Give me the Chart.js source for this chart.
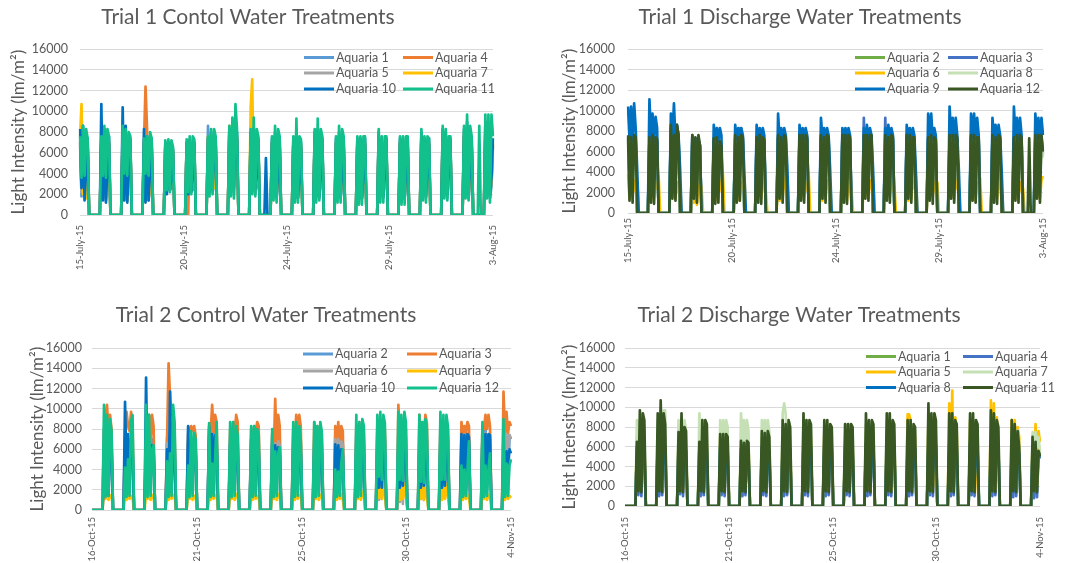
<!DOCTYPE html>
<html>
<head>
<meta charset="utf-8">
<script src="https://cdn.jsdelivr.net/npm/chart.js@4"></script>
<style>
  body { margin: 0; background: #fff; }
  #wrap { position: relative; width: 1066px; height: 563px; }
  canvas { position: absolute; }
</style>
</head>
<body>
<div id="wrap">
  <canvas id="c1" width="533" height="281" style="left:0;top:0"></canvas>
  <canvas id="c2" width="533" height="281" style="left:533px;top:0"></canvas>
  <canvas id="c3" width="533" height="282" style="left:0;top:281px"></canvas>
  <canvas id="c4" width="533" height="282" style="left:533px;top:281px"></canvas>
</div>
<script>
// readings: one row per day = six daytime readings (lm/m2); a 14-value row also gives the eight night readings
const NIGHT = [0, 0, 0, 0, 0, 0, 0, 0];

const trial1Ticks = ['15-July-15', '20-July-15', '24-July-15', '29-July-15', '3-Aug-15'];
const trial2Ticks = ['16-Oct-15', '21-Oct-15', '25-Oct-15', '30-Oct-15', '4-Nov-15'];

// ---- Trial 1 control
const t1cNames = ['Aquaria 1', 'Aquaria 4', 'Aquaria 5', 'Aquaria 7', 'Aquaria 10', 'Aquaria 11'];
const t1cAq1 = [
  [7000,1800,7400,1600,3000,6600],[7000,1600,7400,1400,2800,6800],[7400,1600,7400,1400,2600,6800],
  [7000,1600,7200,1400,2600,6600],[6600,2200,6800,2400,2600,6000],[6600,2200,6800,2400,2400,6400],
  [8600,2400,7400,2200,2800,6800],[7800,2200,8000,2000,6400,7200],[7400,2200,7800,2000,2800,6600],
  [6800,1800,7200,1600,3000,6600],[6800,1600,7200,1600,2800,6400],[7200,1800,7200,1600,3000,6600],
  [6800,1800,7200,1600,2800,6600],[6800,1600,6800,1600,2600,6600],[7200,1800,6800,1600,3000,6600],
  [6800,1600,6800,1600,3000,6600],[7200,1800,6800,1600,3200,6600],[7400,1800,7400,1600,3200,6800],
  [7400,1800,7800,1600,3200,6600],[7800,1800,7800,1600,2800,6600]
];
const t1cAq4 = [
  [7000,2600,7400,2400,3600,6800],[7200,2400,7400,2200,3400,7000],[7400,2400,7400,2200,3200,7000],
  [7000,12400,8300,1800,3400,6800],[6800,2800,7000,3000,2800,6200],[6800,0,7000,2800,2600,6600],
  [7200,2800,7400,2600,3000,7000],[8000,2800,8300,2600,6600,7400],[7600,2800,8000,2600,3200,6800],
  [7000,2600,7400,2400,3600,6800],[7000,2400,7400,2200,3400,6600],[7400,2600,7400,2400,3600,6800],
  [7000,2400,7400,2200,3400,6800],[7000,2400,7000,2200,3200,6800],[7400,2600,7000,2400,3600,6800],
  [7000,2600,7000,2400,3800,6800],[7400,2800,7000,2600,3800,6800],[7600,3000,7600,2800,4000,7000],
  [7600,3000,8000,2800,3800,6800],[8000,2800,8000,2600,3400,6800]
];
const t1cAq5 = [
  [7200,2200,7600,2000,3800,6800],[7400,2000,7600,1800,3600,7000],[7600,2000,7600,1800,3400,7000],
  [7000,2000,7200,1800,3400,6800],[6600,2600,6800,2800,3200,6000],[6800,2600,7000,2800,3200,6600],
  [7400,2600,7400,2800,3000,7000],[8000,2600,8300,2800,6800,7400],[7600,2600,8000,2800,3200,6800],
  [7000,2000,7400,2000,3400,6800],[7000,1800,7400,1800,3000,6600],[7400,2000,7400,2000,3400,6800],
  [7000,2000,7400,2000,3200,6800],[7000,1800,7000,1800,3000,6800],[7400,2000,7000,2000,3400,6800],
  [7000,1800,7000,1800,3400,6800],[7400,2000,7000,2000,3600,6800],[7400,2000,7400,2000,3600,6800],
  [7600,2000,8000,2000,3600,6800],[8000,2000,8000,2000,3200,6800]
];
const t1cAq7 = [
  [7400,10700,2000,4000,1600,7000],[7400,2400,8000,1600,3000,7000],[8000,1400,8300,1400,2400,7000],
  [7000,1400,7400,1600,2400,7000],[6800,2400,7000,2600,3000,6200],[7000,2400,7200,2800,3000,6800],
  [7600,3200,7600,3000,2600,7000],[8600,2400,8600,2600,7000,7600],[10400,13100,2400,3000,3200,7000],
  [7000,2000,7600,2000,3600,7000],[7000,1800,7600,1800,3200,6800],[7600,2000,7600,2000,3600,7000],
  [7000,2000,7600,2000,3400,7000],[7000,1800,7000,2800,2800,7000],[7600,2000,7000,2000,3600,7000],
  [7000,1800,7000,1800,3600,7000],[7600,2000,7000,2000,3800,7000],[7600,2000,7600,2000,3800,7000],
  [8000,2000,8300,2000,3800,7000],[8300,2000,8300,2000,3400,7000]
];
const t1cAq10 = [
  [8300,2600,8600,1400,4200,7400],[10700,1400,8300,1200,4400,7600],[10400,1400,8600,1200,4500,7400],
  [8300,1200,7600,1400,4300,7400],[7000,2000,7000,2400,3600,6400],[7000,2000,7300,2200,4000,7000],
  [7400,2200,8000,2400,5600,7400],[8300,2400,9000,2600,8300,8000],[8000,2400,8300,2600,4000,7400, 0,0,0,0,5500,0,0,0],
  [7400,1800,8000,1800,4000,7400],[7400,1800,8300,1600,3600,7000],[8000,1800,8300,1800,4200,7400],
  [7400,1800,8000,1800,4200,7400],[7400,1600,7400,1600,4000,7400],[8000,1800,7400,1800,4200,7400],
  [7400,1600,7400,1600,4200,7400],[8000,1800,7400,1800,4400,7400],[8300,2000,8000,2000,4600,7400],
  [8300,2000,9000,2000,4500,7400],[9000,2000,9000,1800,3600,7400]
];
const t1cAq11 = [
  [7600,3600,8600,3800,8300,7400],[7600,3800,8600,3600,8300,7600],[8600,4000,8300,3800,8000,7600],
  [7400,4000,7600,3800,8000,7400],[7200,2400,7300,2200,7200,6600],[7300,2200,7600,2000,7600,7300],
  [7600,1800,8300,2000,8300,7600],[8600,1800,9400,1600,10700,8300],[8300,2000,9400,1800,8300,7600],
  [7600,1400,8600,1200,8300,7600],[7600,1200,9300,1200,7600,7300],[8300,1200,9300,1400,8300,7600],
  [7600,1200,8600,1200,8300,7600],[7600,1000,7600,1000,7600,7600],[8300,1200,7600,1200,7600,7600],
  [7600,1000,7600,1000,7600,7600],[8300,1400,7600,1200,7600,7400],[8600,1600,8300,1400,7600,7600],
  [8600,1600,9700,1400,8600,7600, 0,0,0,0,8600,0,0,0],[9700,1600,9700,1200,9700,7600]
];

// ---- Trial 1 discharge
const t1dNames = ['Aquaria 2', 'Aquaria 3', 'Aquaria 6', 'Aquaria 8', 'Aquaria 9', 'Aquaria 12'];
const t1dAq2 = [
  [7200,2600,7000,2400,7200,7000],[7000,2400,7200,2200,7000,6800],[8000,2800,7200,2600,8000,7200],
  [7000,2600,7000,2400,7000,6400],[6800,2200,7000,2400,6600,6200],[7200,2400,7200,8300,7200,7000],
  [7000,2400,7200,2200,7000,6800],[7200,1800,7000,2400,7200,7000],[7200,2600,7200,2400,7200,7000],
  [7200,2800,7000,2400,7200,7000],[7200,2400,7200,2200,7200,7000],[7200,2800,7200,2600,7200,7200],
  [7200,1800,7000,2400,7200,7000],[7200,2800,7200,2400,7000,7000],[7000,2600,7200,2200,7000,6800],
  [7200,2800,7200,2400,7200,7000],[7200,2600,7200,2400,7000,7000],[7200,2400,7000,2200,7200,7000],
  [7000,2600,7200,2400,7200,7000],[7200,2800,7200,2400,7200,5600]
];
const t1dAq3 = [
  [7400,3600,7200,3400,7400,7200],[7200,3400,7400,3200,7200,7000],[8300,3800,7400,3600,8300,7400],
  [7300,3400,7300,3200,7300,6600],[7000,3200,7200,3400,6800,6400],[7400,3400,7200,3600,7400,7200],
  [7200,3400,7400,3200,7200,7000],[7400,3800,7200,3400,7400,7200],[7400,3600,7400,3400,7400,7200],
  [7400,3800,7200,3400,7400,7200],[7400,3400,7400,3200,7400,7200],[9300,3800,7400,3600,7400,7400],
  [9300,3600,7200,3400,7400,7200],[7400,3800,7400,3400,7200,7200],[7200,3600,7400,3200,7200,7000],
  [7400,3800,7400,3400,7400,7200],[7400,3600,7400,3400,7200,7200],[7400,3400,7200,3200,7400,7200],
  [7200,3600,7400,3400,7400,7200],[7400,3800,7400,3400,7400,5800]
];
const t1dAq6 = [
  [3800,1400,3600,1600,3200,2200, 3400,0,0,0,0,0,0,0],[3400,1200,3600,1400,3000,2400, 3600,0,0,0,0,0,0,0],
  [3200,1600,3400,1400,3000,2000, 2800,0,0,0,0,0,0,0],[3600,1000,3200,800,2800,2400, 2600,0,0,0,0,0,0,0],
  [3400,1200,3600,1400,3200,2200, 3800,0,0,0,0,0,0,0],[3600,1400,3400,1200,3000,2400, 3600,0,0,0,0,0,0,0],
  [3200,1600,3400,1400,3200,2200, 2200,0,0,0,0,0,0,0],[3800,1200,3600,1400,3400,2400, 3600,0,0,0,0,0,0,0],
  [3400,1400,3600,1600,3000,2200, 3800,0,0,0,0,0,0,0],[3600,1200,3400,1400,3200,2400, 3000,0,0,0,0,0,0,0],
  [3400,1400,3600,1200,3000,2200, 2200,0,0,0,0,0,0,0],[3600,1600,3400,1400,3200,2400, 3600,0,0,0,0,0,0,0],
  [3400,1400,3600,1600,3000,2200, 2600,0,0,0,0,0,0,0],[3800,1200,3600,1400,3200,2400, 3600,0,0,0,0,0,0,0],
  [3600,1400,3400,1600,3000,2200, 3000,0,0,0,0,0,0,0],[3400,1600,3600,1400,3200,2400, 2600,0,0,0,0,0,0,0],
  [3600,1400,3400,1200,3000,2200, 3400,0,0,0,0,0,0,0],[3400,1200,3600,1400,3200,2400, 2400,0,0,0,0,0,0,0],
  [3800,1400,3600,1600,3000,2200, 2400,0,0,0,0,0,0,0],[3600,1600,3400,1400,3200,3600]
];
const t1dAq8 = [
  [7000,3000,7200,2800,7000,6800],[6800,2800,7000,2600,6800,6600],[7800,3200,7000,3000,7800,7000],
  [6800,3000,6800,2800,6800,6200],[6600,2600,6800,2800,6400,6000],[7000,2800,6800,3000,7000,6800],
  [6800,2800,7000,2600,6800,6600],[7000,3200,6800,2800,7000,6800],[7000,3000,7000,2800,7000,6800],
  [7000,3200,6800,2800,7000,6800],[7000,2800,7000,2600,7000,6800],[7000,3200,7000,3000,7000,7000],
  [7000,3000,6800,2800,7000,6800],[7000,3200,7000,2800,6800,6800],[6800,3000,7000,2600,6800,6600],
  [7000,3200,7000,2800,7000,6800],[7000,3000,7000,2800,6800,6800],[7000,2800,6800,2600,7000,6800],
  [6800,3000,7000,2800,7000,6800],[7000,3200,7000,2800,7000,5400]
];
const t1dAq9 = [
  [10400,7200,10400,7000,10700,8300, 4200,0,0,0,0,0,0,0],[11100,7400,9700,7000,9400,8300],
  [9700,7200,10700,7000,8600,7600, 4400,0,0,0,0,0,0,0],[7600,6800,7300,6600,7000,6600],
  [8600,7200,8300,7000,8300,7600],[8600,7200,8300,7000,8300,7600, 3800,0,0,0,0,0,0,0],
  [8600,7000,8300,7200,8300,7600],[9700,7200,8300,7000,8300,7600, 4600,0,0,0,0,0,0,0],
  [8600,7000,8300,7200,8300,7600],[9300,7200,8300,7000,8300,7600, 4200,0,0,0,0,0,0,0],
  [8300,7000,8300,7200,8300,7600],[8300,7200,8600,7000,8300,7600, 4400,0,0,0,0,0,0,0],
  [8300,7000,8600,7200,8300,7600],[8600,7200,8300,7000,8300,7600, 4000,0,0,0,0,0,0,0],
  [9700,7400,9700,7200,8300,7600],[10400,7400,9300,7200,9300,7600, 4400,0,0,0,0,0,0,0],
  [9700,7400,9700,7200,9300,7600],[9300,7200,8600,7000,8600,7600, 4200,0,0,0,0,0,0,0],
  [10400,7400,9300,7200,9300,7600],[9700,7400,9300,7200,9300,7600]
];
const t1dAq12 = [
  [7600,1200,7400,1000,7600,7400],[7400,1000,7600,900,7400,7200],[8600,1400,7600,1200,8600,7600],
  [7600,1400,7400,1000,7600,6600],[7300,900,7400,1000,7000,6600],[7600,1000,7400,1200,7600,7400],
  [7400,1000,7600,900,7400,7200],[7600,1400,7400,1000,7600,7400],[7600,1200,7600,1000,7600,7400],
  [7600,1400,7400,1000,7600,7400],[7600,1000,7600,900,7600,7400],[7600,1400,7600,1200,7600,7600],
  [7600,1200,7400,1000,7600,7400],[7600,1400,7600,1000,7400,7400],[7400,1200,7600,900,7400,7200],
  [7600,1400,7600,1000,7600,7400],[7600,1200,7600,1000,7400,7400],[7600,1000,7400,900,7600,7400],
  [7400,1200,7600,1000,7600,7400, 0,0,0,0,7300,0,0,0],[7600,1400,7600,1000,7600,6000]
];

// ---- Trial 2 control
const t2cNames = ['Aquaria 2', 'Aquaria 3', 'Aquaria 6', 'Aquaria 9', 'Aquaria 10', 'Aquaria 12'];
const t2cAq2 = [
  [8000,1400,7600,1500,7400,6800],[7000,1500,7200,1600,7000,6600],[7400,1500,7200,1600,7000,6400],
  [7200,1600,7400,1500,7200,6800],[6800,1500,7000,1600,6800,6400],[7400,1600,7200,1500,7400,7000],
  [7200,1500,7400,1600,7200,6800],[7000,1500,7200,1600,7000,6600],[7400,1600,7200,1500,7400,6800],
  [7200,1500,7400,1600,7200,6800],[7000,1600,7200,1500,7000,6600],[7200,1500,7000,1600,7200,6600],
  [7400,1500,7600,1600,7400,7000],[7600,1600,7400,1500,7600,7200],[7600,1500,7600,1600,7400,7200],
  [7400,1600,7200,1500,7400,7000],[7600,1500,7400,1600,7600,7200],[7200,1600,7400,1500,7200,6800],
  [7400,1500,8700,1600,7400,7000],[7400,1600,7200,1500,7400,7000]
];
const t2cAq3 = [
  [7800,9400,10400,7600,9400,8000],[7600,9700,8300,7800,9700,8300],[7000,6500,9400,6800,9400,8300],
  [7000,14500,11000,9400,9400,7800],[7600,8000,8300,7800,8300,7400],[8000,7500,10400,7600,9400,8700],
  [8000,7400,8700,7500,9400,8700],[8000,7000,8300,7400,8700,8300],[7600,5500,11000,5600,9400,8300],
  [8000,7000,9400,7200,9400,8300],[8700,7800,8300,7400,8000,7600],[8300,6000,8700,6200,8300,7800],
  [8300,7000,8700,7200,8300,7800],[8300,7000,8700,7400,8300,8000],[10400,7400,9000,7400,8600,8000],
  [9400,7200,8700,7400,9400,8600],[8600,7400,8600,7400,8600,8000],[8700,7500,8300,7600,8700,8300],
  [8300,8000,9400,8000,9400,8300],[11700,7500,9700,7600,8700,8300]
];
const t2cAq6 = [
  [6800,1200,7000,1300,6800,6400],[6600,1300,6800,1200,6600,6200],[6800,1200,6600,1300,6400,6000],
  [6600,1300,6800,1200,6800,6400],[6400,1200,6600,1300,6400,6000],[6800,1300,6600,1200,6800,6600],
  [6600,1200,6800,1300,6600,6400],[6400,1200,6600,1300,6400,6200],[6800,1300,6600,1200,6800,6400],
  [6600,1200,6800,1300,6600,6400],[6400,1300,6600,1200,6400,6200],[7000,5500,7000,5600,6800,6400],
  [6800,1200,7000,1300,6800,6600],[7000,1000,6800,1100,7000,6800],[7200,800,7000,600,7000,6600],
  [6800,1100,6600,1000,6800,6600],[7000,1200,6800,1300,7000,6800],[6600,1300,6800,1200,6600,6400],
  [7400,6400,7600,6000,7200,7000],[7400,5500,7500,5600,7400,7000]
];
const t2cAq9 = [
  [1800,1100,1600,1000,1400,1500],[1600,1000,1500,1100,1400,1200],[1700,1100,1600,1000,1500,1300],
  [1600,1000,1800,1100,1500,1400],[1500,1100,1600,1000,1400,1300],[1700,1000,1600,1100,1500,1400],
  [1800,1100,1700,1000,1600,1500],[1600,1000,1500,1100,1400,1300],[1700,1100,1800,1000,1600,1400],
  [1600,1000,1700,1100,1500,1400],[1800,1100,1600,1000,1500,1400],[2000,1000,1800,1100,1600,1000],
  [2200,1100,2000,1000,1800,1500],[3300,1200,3000,1100,2800,1500],[2900,1000,2700,1100,2600,1400],
  [2700,1100,2500,1000,2400,1300],[3000,1000,2800,1100,2600,1400],[1800,1000,1600,1100,1500,1200],
  [1700,1100,1600,1000,1500,1300],[1600,1000,1500,1100,1400,1200]
];
const t2cAq10 = [
  [2800,1500,8000,1400,7600,6000],[10700,3000,7500,3200,7000,6000],[13100,3200,6500,3000,6400,6000],
  [6000,2000,11700,2400,6000,5400],[8300,3000,6000,3200,5800,6000],[8300,3500,7500,3600,7400,6400],
  [6400,2600,6600,2400,6400,5800],[7000,2000,6600,2200,6200,5600],[6500,3000,6400,3200,6200,5800],
  [6000,2500,6200,2400,6000,5600],[6000,2000,6200,2200,6000,5600],[6500,3000,6400,3200,6000,5400],
  [6000,2000,6400,2200,6000,5600],[6200,2200,6400,2200,6200,5800],[6200,2200,6400,2400,6200,5800],
  [6000,2200,6200,2400,6000,5600],[6200,2200,6400,2400,6200,5800],[7500,3500,7400,3600,7500,7200],
  [7000,3500,7500,3600,7500,7400],[6000,4500,5800,4600,6000,5600]
];
const t2cAq12 = [
  [10400,1300,9400,1400,9000,7800],[4200,1300,5000,1400,8800,9400],[10400,1300,9400,1400,6000,6400],
  [4800,1300,5600,1400,10400,8700],[4400,1300,7800,1400,7600,7000],[8600,1300,4600,1400,5200,8700],
  [8700,1300,8700,1400,8300,7400],[8300,1300,8300,1400,8000,7400],[8000,1300,5800,1400,5600,6200],
  [8700,1300,8700,1400,8300,7000],[8700,1300,8300,1400,8700,7800],[4000,1300,3800,1400,4600,6000],
  [9400,1300,8700,1400,9000,8300],[9400,3300,9700,3000,9400,8600],[9700,3000,9400,2900,9700,8700],
  [9400,2800,8700,2700,9000,8000],[9700,3000,9400,3000,9400,8300],[4400,1300,4000,1400,3800,6800],
  [8700,1300,4400,1400,4000,5600],[9000,1300,4600,1400,4400,5000]
];

// ---- Trial 2 discharge
const t2dNames = ['Aquaria 1', 'Aquaria 4', 'Aquaria 5', 'Aquaria 7', 'Aquaria 8', 'Aquaria 11'];
const t2dAq1 = [
  [6200,1900,6600,2000,6400,6000],[6600,2000,7200,1900,6800,6200],[6200,1900,6600,2000,6200,5800],
  [6000,2000,6400,1900,6200,5800],[6200,1900,6400,2000,6200,5800],[6000,2000,6200,1900,6000,5600],
  [6200,1900,6400,2000,6200,5800],[6400,2000,6600,1900,6400,6000],[6600,1900,6800,2000,6600,6200],
  [6400,2000,6600,1900,6400,6000],[6200,1900,6400,2000,6200,5800],[6600,2000,6800,1900,6600,6200],
  [6600,1900,6800,2000,6600,6200],[6400,2000,6600,1900,6400,6000],[6800,1900,7000,2000,6800,6400],
  [6600,2000,6800,1900,6600,6200],[6600,1900,6800,2000,6600,6200],[6800,2000,7000,1900,6800,6200],
  [6200,1900,6400,2000,6000,5600],[5800,1800,6000,1900,5600,5200]
];
const t2dAq4 = [
  [5800,1100,6000,1000,5800,5400],[6000,1000,6400,1100,6000,5600],[5800,1200,6000,1000,5800,5400],
  [5600,1000,5800,1100,5600,5200],[5800,1100,6000,1000,5800,5400],[5600,1000,5800,1100,5600,5200],
  [5800,1100,6000,1000,5800,5400],[6000,1000,6200,1100,6000,5600],[6200,1100,6400,1000,6200,5800],
  [6000,1000,6200,1100,6000,5600],[5800,1100,6000,1000,5800,5400],[6200,1000,6400,1100,6200,5800],
  [6200,1100,6400,1000,6200,5800],[6000,1000,6200,1100,6000,5600],[6400,1100,6600,1000,6400,6000],
  [6200,1000,6400,1100,6200,5800],[6200,1100,6400,1000,6200,5800],[6400,1000,6600,1100,6400,5800],
  [5800,900,6000,1000,5600,5200],[5400,800,5600,900,5200,4800]
];
const t2dAq5 = [
  [7000,1800,7400,1700,7000,6500],[7400,1700,8000,1800,7400,6800],[7000,1800,7400,1700,7000,6500],
  [6800,1700,7200,1800,7000,6400],[7000,1800,7200,1700,7000,6500],[6800,1700,7000,1800,6800,6300],
  [7000,1800,7200,1700,7000,6500],[7200,1700,7400,1800,7200,6700],[7400,1800,7600,1700,7400,6900],
  [7200,1700,7400,1800,7200,6700],[7000,1800,7200,1700,7000,6500],[7400,1700,7600,1800,7400,6900],
  [7400,1800,7600,1700,7400,6900],[9300,9300,8700,1800,8000,7000],[8700,1800,9000,1800,8700,2700],
  [10400,1800,11700,1800,9000,7600],[8700,1800,8700,1700,8300,2300],[10700,1800,10400,1700,9000,3200],
  [8700,2000,8700,2000,8000,7000],[6500,2000,8300,2000,7600,6500]
];
const t2dAq7 = [
  [8700,6200,8700,6000,8700,8000],[8700,6400,9700,6200,9700,9700],[8700,6200,8700,6000,8700,7600],
  [9400,6200,8700,6000,8700,8300],[8700,6000,8700,6200,8700,8000],[9400,6000,8700,6200,8700,7600],
  [8700,6200,8700,6000,8700,7600],[9400,10400,9400,6200,8700,8000],[8700,6400,8700,6200,8300,8000],
  [8300,6200,8300,6000,8000,7600],[8300,6200,8300,6000,8000,7600],[8300,6200,8300,6000,8000,7600],
  [8700,6200,8700,6000,8300,7600],[8300,6200,8300,6000,8000,7600],[8700,6200,8700,6000,8300,7600],
  [8700,6200,8700,6000,8300,7600],[8700,6200,8700,6000,8300,7600],[8700,6200,8700,6000,8300,7600],
  [7700,6200,7700,6000,7700,6400],[7500,6200,7500,6000,7000,5500]
];
const t2dAq8 = [
  [6000,1700,6400,1800,6200,5800],[6400,1800,7000,2700,6600,6000],[6000,2400,6400,1900,6000,5600],
  [5800,1800,6200,1700,6000,5600],[6000,1800,6200,1900,6000,5600],[5800,1700,6000,1800,5800,5400],
  [6000,1900,6200,1800,6000,5600],[6200,1800,6400,1700,6200,5800],[6400,2400,6600,1900,6400,6000],
  [6200,1800,6400,2000,6200,5800],[6000,1900,6200,1800,6000,5600],[6400,2600,6600,2000,6400,6000],
  [6400,4800,6600,2000,6400,6000],[6200,2000,6400,1900,6200,5800],[6600,4500,6800,2600,6600,6200],
  [6400,2000,6600,1900,6400,6000],[6400,2000,6600,2000,6400,6000],[6600,4000,6800,2600,6600,6000],
  [6000,5500,6200,4500,5800,5400],[5600,5500,5800,4500,5400,5000]
];
const t2dAq11 = [
  [6500,1500,9700,1400,9400,8700],[9400,1500,10700,1400,9400,8300],[7500,1500,9400,1400,8000,7600],
  [6500,1500,8700,1400,8700,8300],[7300,1500,7300,1400,7300,7000],[6600,1500,6400,1400,6600,6400],
  [7600,1500,7400,1400,7600,7000],[8700,1500,8300,1400,8700,8000],[9400,1500,8700,1400,8700,8300],
  [8700,1500,8700,1400,8300,8000],[8300,1500,8300,1400,8300,8000],[9400,1500,8700,1400,8700,8300],
  [9400,1500,9400,1400,8700,8300],[8700,1500,8700,1400,8300,8000],[10400,1500,9400,1400,9400,8700],
  [9400,1500,9400,1400,8700,8300],[9400,1500,9400,1400,8700,8300],[9700,1500,9400,1400,8700,8000],
  [8700,1500,8300,1400,7600,6000],[7000,1500,6500,1400,5600,5000]
];

const blue1 = '#5B9BD5', orange = '#ED7D31', grey = '#A5A5A5', gold = '#FFC000';
const blue2 = '#0070C0', teal = '#12C08C', green = '#70AD47', blue3 = '#4472C4';
const pale = '#C5E0B4', dark = '#385723';

const panels = [
  { id: 'c1', title: 'Trial 1 Contol Water Treatments', names: t1cNames, ticks: trial1Ticks, nightFirst: false,
    rows: [t1cAq1, t1cAq4, t1cAq5, t1cAq7, t1cAq10, t1cAq11], colors: [blue1, orange, grey, gold, blue2, teal],
    box: { padL: 3, padR: 40, titleTop: 5, titleBottom: 19, yW: 77, yTitlePad: 5, yTickPad: 12, xH: 66, xTickPad: 10, legCols: [304, 403], legRows: [57.5, 73, 89] } },
  { id: 'c2', title: 'Trial 1 Discharge Water Treatments', names: t1dNames, ticks: trial1Ticks, nightFirst: false,
    rows: [t1dAq2, t1dAq3, t1dAq6, t1dAq8, t1dAq9, t1dAq12], colors: [green, blue3, gold, pale, blue2, dark],
    box: { padL: 24, padR: 23, titleTop: 5, titleBottom: 19, yW: 71, yTitlePad: 2, yTickPad: 13, xH: 68, xTickPad: 5, legCols: [322, 415], legRows: [57.5, 73, 89] } },
  { id: 'c3', title: 'Trial 2 Control Water Treatments', names: t2cNames, ticks: trial2Ticks, nightFirst: true,
    rows: [t2cAq2, t2cAq3, t2cAq6, t2cAq9, t2cAq10, t2cAq12], colors: [blue1, orange, grey, gold, blue2, teal],
    box: { padL: 21, padR: 22, titleTop: 22, titleBottom: 20, yW: 71, yTitlePad: 6, yTickPad: 10, xH: 53, xTickPad: 7, legCols: [303, 407], legRows: [73, 90, 107] } },
  { id: 'c4', title: 'Trial 2 Discharge Water Treatments', names: t2dNames, ticks: trial2Ticks, nightFirst: true,
    rows: [t2dAq1, t2dAq4, t2dAq5, t2dAq7, t2dAq8, t2dAq11], colors: [green, blue3, gold, pale, blue2, dark],
    box: { padL: 25, padR: 26, titleTop: 22, titleBottom: 20, yW: 67, yTitlePad: 1, yTickPad: 10, xH: 57, xTickPad: 11, legCols: [333, 430], legRows: [75.5, 91, 106.5] } }
];

function buildSeries(rows, nightFirst) {
  const out = nightFirst ? NIGHT.slice() : [];
  rows.forEach((row, i) => {
    out.push(...row.slice(0, 6));
    if (i < rows.length - 1) out.push(...(row.length > 6 ? row.slice(6) : NIGHT));
  });
  return out;
}

function buildLabels(n, tickLabels) {
  const labels = new Array(n).fill('');
  tickLabels.forEach((t, k) => { labels[Math.round(k * (n - 1) / (tickLabels.length - 1))] = t; });
  return labels;
}

// legend sits inside the plot, two columns like Excel
const insideLegend = {
  id: 'insideLegend',
  afterDraw(chart, args, opts) {
    const ctx = chart.ctx;
    ctx.save();
    ctx.font = '12.5px Lato';
    ctx.textBaseline = 'middle';
    chart.data.datasets.forEach((ds, i) => {
      const x = opts.cols[i % 2], y = opts.rows[Math.floor(i / 2)];
      ctx.strokeStyle = ds.borderColor;
      ctx.lineWidth = 3;
      ctx.beginPath(); ctx.moveTo(x, y); ctx.lineTo(x + 30, y); ctx.stroke();
      ctx.fillStyle = '#595959';
      ctx.fillText(ds.label, x + 32, y);
    });
    ctx.restore();
  }
};

Chart.defaults.font.family = "Lato, 'Open Sans', sans-serif";

panels.forEach(p => {
  const b = p.box;
  const n = buildSeries(p.rows[0], p.nightFirst).length;
  new Chart(document.getElementById(p.id), {
    type: 'line',
    data: {
      labels: buildLabels(n, p.ticks),
      datasets: p.rows.map((rows, i) => ({
        label: p.names[i],
        data: buildSeries(rows, p.nightFirst),
        borderColor: p.colors[i],
        borderWidth: 2.7,
        borderJoinStyle: 'round',
        pointRadius: 0,
        tension: 0,
        order: p.rows.length - 1 - i   // Excel puts the last series on top
      }))
    },
    options: {
      responsive: false,
      animation: false,
      devicePixelRatio: 1,
      layout: { padding: { left: b.padL, right: b.padR, top: 0, bottom: 0 } },
      plugins: {
        legend: { display: false },
        tooltip: { enabled: false },
        title: { display: true, text: p.title, color: '#595959', font: { size: 21, weight: 'normal' },
                 padding: { top: b.titleTop, bottom: b.titleBottom } },
        insideLegend: { cols: b.legCols, rows: b.legRows }
      },
      scales: {
        x: {
          grid: { display: false, drawTicks: false },
          border: { display: false },
          ticks: { autoSkip: false, minRotation: 90, maxRotation: 90, padding: b.xTickPad, color: '#595959', font: { size: 9.5 } },
          afterFit: s => { s.height = b.xH; }
        },
        y: {
          min: 0, max: 16000,
          ticks: { stepSize: 2000, padding: b.yTickPad, color: '#595959', font: { size: 12.5 }, callback: v => String(v) },
          grid: { color: '#d9d9d9', drawTicks: false },
          border: { display: false },
          title: { display: true, text: 'Light Intensity (lm/m²)', color: '#595959', font: { size: 17 },
                   padding: { top: b.yTitlePad, bottom: 0 } },
          afterFit: s => { s.width = b.yW; }
        }
      }
    },
    plugins: [insideLegend]
  });
});
</script>
</body>
</html>
